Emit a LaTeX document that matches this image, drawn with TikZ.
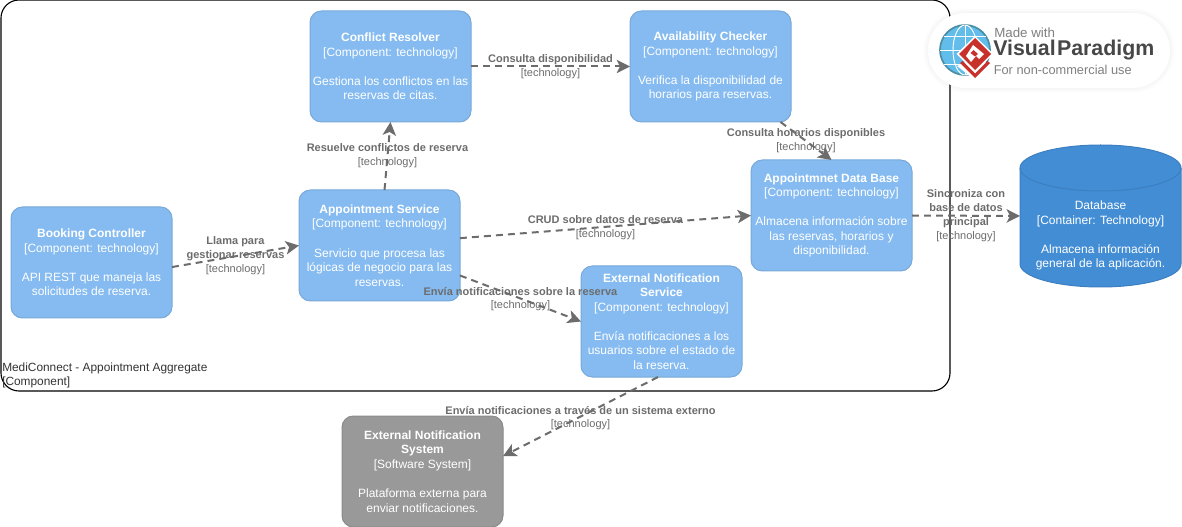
\documentclass[tikz,border=0pt]{standalone}
\usepackage{fontspec}
\setmainfont{Liberation Sans}
\usetikzlibrary{arrows.meta,calc,shadows.blur}
\definecolor{compfill}{HTML}{85BBF0}
\definecolor{compline}{HTML}{78A8D8}
\definecolor{sysfill}{HTML}{999999}
\definecolor{sysline}{HTML}{8A8A8A}
\definecolor{dbfill}{HTML}{438DD5}
\definecolor{dbline}{HTML}{3C7FC0}
\definecolor{linkgray}{HTML}{6C6C6C}
\definecolor{vpred}{HTML}{C8302B}
\definecolor{vpblue}{HTML}{62BDEB}
\definecolor{vpring}{HTML}{4A8FA5}
\tikzset{
  x=0.75pt,y=-0.75pt,
  box/.style={draw=compline,fill=compfill,line width=0.75pt,rounded corners=8.5pt,
    minimum width=120.75pt,minimum height=83.25pt,inner sep=0pt,outer sep=0pt,
    text=white,align=center,font=\fontsize{9}{10.9}\selectfont},
  sysbox/.style={box,draw=sysline,fill=sysfill},
  link/.style={draw=linkgray,line width=1.5pt,dash pattern=on 5.2pt off 3.8pt,
    -{Stealth[length=10pt,width=10pt,inset=2.5pt]}},
  lbl/.style={text=linkgray,align=center,inner sep=0pt,
    font=\fontsize{8.25}{10.3}\selectfont},
  anchorbox/.style={minimum width=120.75pt,minimum height=106.5pt,inner sep=0pt,outer sep=0pt},
  logotext/.style={anchor=west,inner sep=0pt}
}
\newcommand{\ttl}[1]{\textbf{#1}}
\begin{document}
\begin{tikzpicture}
\useasboundingbox (0,0) rectangle (1182,527);
% container
\draw[black,line width=0.85pt,rounded corners=13.5pt] (1,0) rectangle (950,391);
\node[anchor=north west,inner sep=0pt,align=left,text=black!80,font=\fontsize{8.9}{10.7}\selectfont] (clabel) at (2,362.5)
  {MediConnect - Appointment Aggregate\\{}[Component]};
% components
\node[box] (booking) at (91.5,262.5) {\ttl{Booking Controller}\\{}[Component: technology]\\[\baselineskip]API REST que maneja las\\solicitudes de reserva.};
\node[box] (service) at (379.5,245.5) {\ttl{Appointment Service}\\{}[Component: technology]\\[\baselineskip]Servicio que procesa las\\lógicas de negocio para las\\reservas.};
\node[box] (conflict) at (390.5,66.5) {\ttl{Conflict Resolver}\\{}[Component: technology]\\[\baselineskip]Gestiona los conflictos en las\\reservas de citas.};
\node[box] (avail) at (710.5,66.5) {\ttl{Availability Checker}\\{}[Component: technology]\\[\baselineskip]Verifica la disponibilidad de\\horarios para reservas.};
\node[box] (data) at (831.5,215.5) {\ttl{Appointmnet Data Base}\\{}[Component: technology]\\[\baselineskip]Almacena información sobre\\las reservas, horarios y\\disponibilidad.};
\node[box] (extsvc) at (661.5,321.5) {\ttl{External Notification}\\\ttl{Service}\\{}[Component: technology]\\[\baselineskip]Envía notificaciones a los\\usuarios sobre el estado de\\la reserva.};
\node[sysbox] (extsys) at (422.5,471.5) {\ttl{External Notification}\\\ttl{System}\\{}[Software System]\\[\baselineskip]Plataforma externa para\\enviar notificaciones.};
% database cylinder
\path[draw=dbline,fill=dbfill,line width=0.75pt]
  (1020,168) arc[start angle=180,end angle=360,x radius=80.5,y radius=23] -- (1181,264)
  arc[start angle=0,end angle=180,x radius=80.5,y radius=23] -- cycle;
\draw[dbline,line width=0.75pt] (1020,168) arc[start angle=180,end angle=0,x radius=80.5,y radius=23];
\node[anchorbox] (db) at (1100.5,216) {};
\node[text=white,align=center,inner sep=0pt,font=\fontsize{9}{10.9}\selectfont] (dbtext) at (1100.5,235.5)
  {Database\\{}[Container: Technology]\\[\baselineskip]Almacena información\\general de la aplicación.};
% connectors
\draw[link] ([yshift=-3.4pt]booking.east) -- (service.west)
  node[lbl,midway,yshift=0.6pt] (l1) {\textbf{Llama para}\\\textbf{gestionar reservas}\\{}[technology]};
\draw[link] ([xshift=3.75pt]service.north) -- (conflict.south)
  node[lbl,midway] (l2) {\textbf{Resuelve conflictos de reserva}\\{}[technology]};
\draw[link] (conflict.east) -- (avail.west)
  node[lbl,midway] (l3) {\textbf{Consulta disponibilidad}\\{}[technology]};
\draw[link] ([xshift=52.5pt]avail.south) -- (data.north)
  node[lbl,midway] (l4) {\textbf{Consulta horarios disponibles}\\{}[technology]};
\draw[link] ([yshift=5.5pt]service.east) -- (data.west)
  node[lbl,midway,yshift=-0.5pt] (l5) {\textbf{CRUD sobre datos de reserva}\\{}[technology]};
\draw[link] ([yshift=-22.5pt]service.east) -- (extsvc.west)
  node[lbl,midway,yshift=-0.5pt] (l6) {\textbf{Envía notificaciones sobre la reserva}\\{}[technology]};
\draw[link] (data.east) -- (db.west)
  node[lbl,midway] (l7) {\textbf{Sincroniza con}\\\textbf{base de datos}\\\textbf{principal}\\{}[technology]};
\draw[link] ([xshift=-2.6pt]extsvc.south) -- ([yshift=11.5pt]extsys.east)
  node[lbl,midway,yshift=-1.2pt] (l8) {\textbf{Envía notificaciones a través de un sistema externo}\\{}[technology]};
% watermark badge
\node[draw=none,fill=white,rounded corners=28pt,minimum width=181.5pt,minimum height=56.25pt,inner sep=0pt,
  blur shadow={shadow blur steps=8,shadow xshift=0pt,shadow yshift=0pt,shadow blur radius=4pt,shadow opacity=9}] (badge) at (1049,50.5) {};
\fill[vpblue] (965,50) circle[radius=25];
\draw[vpring,line width=1.3pt] (965,50) circle[radius=25];
\begin{scope}[white,line width=0.7pt]
  \draw (940,50) -- (990,50);
  \draw (944,36) -- (986,36);
  \draw (944,64) -- (986,64);
  \draw (965,25) -- (965,75);
  \draw (965,25) arc[start angle=270,end angle=90,x radius=12,y radius=25];
  \draw (965,25) arc[start angle=-90,end angle=90,x radius=12,y radius=25];
\end{scope}
% chevrons under the diamond
\fill[white] (975,58) -- (994,66) -- (975,80) -- (957,66) -- cycle;
\fill[vpred] (960,63) -- (975,78) -- (990,63) -- (987.5,61) -- (975,73.5) -- (962.5,61) -- cycle;
% diamond
\fill[white] (975,36) -- (993.5,54) -- (975,72) -- (956.5,54) -- cycle;
\fill[vpred] (975,38) -- (991,54) -- (975,70) -- (959,54) -- cycle;
\fill[white] (973,45) -- (984,54) -- (979,59) -- (976,56) -- (971,62) -- (966,56) -- cycle;
\fill[vpred] (973.5,50) -- (978,54) -- (975,56.5) -- (970.5,53) -- cycle;
\node[logotext,text=black!50,font=\fontsize{10}{12}\selectfont] (vp1) at (994,32.5) {Made with};
\node[logotext,text=black!72,font=\fontsize{16}{18}\bfseries\selectfont] (vp2) at (993,50.5) {Visual\kern1pt Paradigm};
\node[logotext,text=black!50,font=\fontsize{9.6}{12}\selectfont] (vp3) at (993.5,69.5) {For non-commercial use};
\end{tikzpicture}
\end{document}
